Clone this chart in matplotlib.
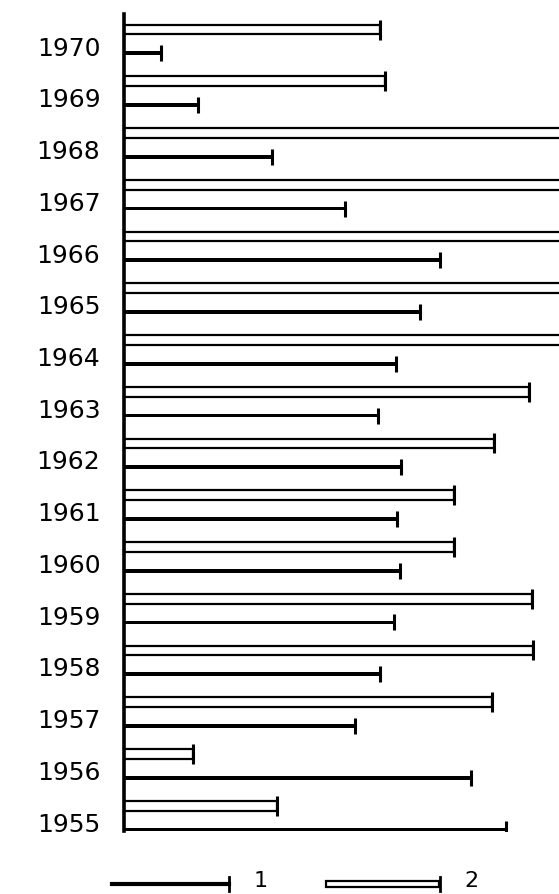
import numpy as np
import matplotlib.pyplot as plt

# years from bottom to top
years = [1955, 1956, 1957, 1958, 1959, 1960, 1961, 1962,
         1963, 1964, 1965, 1966, 1967, 1968, 1969, 1970]
# series 1 (solid line), arbitrary units
series1 = [382, 347, 231, 256, 270, 276, 273, 277,
           254, 272, 296, 316, 221, 148, 74, 37]
# series 2 (hollow bar); values past the right edge are cut off in the original
series2 = [153, 69, 368, 409, 408, 330, 330, 370,
           405, 470, 470, 470, 470, 470, 261, 256]

plt.rcParams['font.family'] = ['DejaVu Sans']

fig = plt.figure(figsize=(5.59, 8.95), dpi=100)
ax = fig.add_axes([124 / 559, 1 - 832 / 895, (559 - 124) / 559, (832 - 15) / 895])

y = np.arange(len(years))
y1 = y - 0.16
y2 = y + 0.30

# hollow bars (series 2)
ax.barh(y2, series2, height=0.19, left=0, color='white',
        edgecolor='black', linewidth=1.6, zorder=2)
ax.plot(series2, y2, linestyle='none', marker='|', markersize=15,
        markeredgewidth=2.2, color='black', zorder=3)

# solid bars (series 1)
ax.barh(y1, series1, height=0.075, left=0, color='black', zorder=2)
ax.plot(series1, y1, linestyle='none', marker='|', markersize=12,
        markeredgewidth=2.2, color='black', zorder=3)

ax.set_xlim(0, 435)
ax.set_ylim(-0.19, 15.6)
for s in ['top', 'right', 'bottom']:
    ax.spines[s].set_visible(False)
ax.spines['left'].set_linewidth(2.6)
ax.set_xticks([])
ax.set_yticks(y)
ax.set_yticklabels([str(v) for v in years], fontsize=18)
ax.tick_params(axis='y', length=0, pad=17)

# legend at the bottom
lg = fig.add_axes([0, 0, 1, 40 / 895])
lg.set_xlim(0, 559)
lg.set_ylim(0, 40)
lg.axis('off')
lg.plot([112, 229], [10, 10], color='black', linewidth=3)
lg.plot([229, 229], [3, 17], color='black', linewidth=2)
lg.text(254, 4, '1', fontsize=16, va='bottom')
lg.add_patch(plt.Rectangle((326, 7), 113, 6, facecolor='white',
                           edgecolor='black', linewidth=1.6))
lg.plot([440, 440], [3, 17], color='black', linewidth=2)
lg.text(464, 4, '2', fontsize=16, va='bottom')

fig.savefig('out.png', dpi=100)
